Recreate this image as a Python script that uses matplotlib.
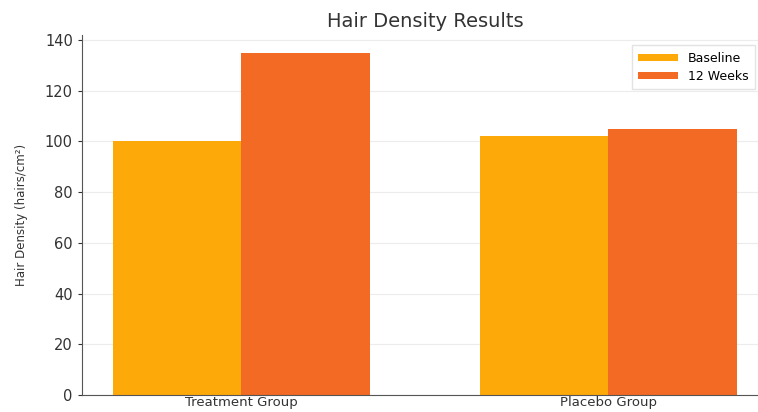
import matplotlib
matplotlib.use("Agg")
import matplotlib.pyplot as plt
import numpy as np

groups = ["Treatment Group", "Placebo Group"]
baseline = [100, 102]
week12 = [135, 105]
series_names = ["Baseline", "12 Weeks"]

fig = plt.figure(figsize=(7.58, 4.12), dpi=100)
ax = fig.add_axes([0.108, 0.041, 0.905, 0.873])

x = np.arange(len(groups))
w = 0.35
ax.bar(x - w/2, baseline, w, color="#FDA90A", label=series_names[0], zorder=2)
ax.bar(x + w/2, week12, w, color="#F26A24", label=series_names[1], zorder=2)

ax.set_xticks(x)
ax.set_xticklabels(groups, fontsize=9.5, color="#333333")
ax.set_yticks(np.arange(0, 141, 20))
ax.tick_params(axis="y", labelsize=10.5, colors="#333333", length=3)
ax.tick_params(axis="x", length=0, pad=1)
ax.set_ylabel("Hair Density (hairs/cm²)", fontsize=8.5, color="#333333", labelpad=12)
ax.set_title("Hair Density Results", fontsize=14, color="#333333", pad=6)

ax.grid(axis="y", color="#ececec", linestyle="-", linewidth=0.8, zorder=0)
for s in ["top", "right"]:
    ax.spines[s].set_visible(False)
for s in ["left", "bottom"]:
    ax.spines[s].set_color("#555555")

ax.legend(loc="upper right", fontsize=9, frameon=True, edgecolor="#dddddd",
          fancybox=False, handlelength=3.2, handleheight=0.5,
          borderpad=0.5, labelspacing=0.4, bbox_to_anchor=(0.99, 0.99))

fig.savefig("out.png", dpi=100)
